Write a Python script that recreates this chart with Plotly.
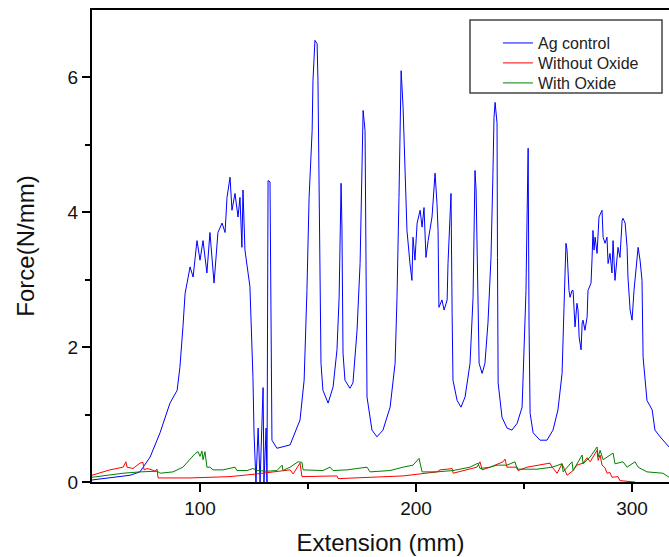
import plotly.graph_objects as go

# ---- data ----
ag_x = [50.0, 58.3, 67.6, 72.2, 76.9, 81.5, 86.1, 89.4, 90.7, 92.1, 93.1, 94.0, 95.4, 96.8, 98.6,
        100.0, 101.4, 103.2, 104.6, 106.5, 108.3, 110.2, 111.6, 112.5, 113.9, 114.8, 116.2, 117.6,
        118.5, 119.4, 119.9, 120.8, 122.2, 123.1, 124.5, 125.0, 125.9, 126.9, 127.8, 129.2, 129.6,
        130.6, 131.0, 131.5, 132.4, 133.3, 135.6, 141.7, 146.3, 148.2, 149.5, 150.5, 151.9, 152.3,
        153.2, 154.2, 154.6, 155.1, 156.0, 156.9, 159.3, 161.6, 163.4, 164.4, 165.3, 165.7, 166.2,
        167.1, 169.4, 170.8, 172.7, 174.1, 175.0, 175.5, 176.4, 176.9, 177.3, 179.6, 181.9, 184.7,
        188.0, 190.3, 191.2, 192.1, 193.1, 194.0, 194.9, 195.8, 197.2, 198.1, 198.6, 199.5, 200.5,
        201.9, 202.8, 203.7, 204.6, 205.6, 207.4, 207.9, 208.8, 209.7, 210.2, 210.6, 212.0, 213.0,
        214.4, 214.8, 215.7, 216.2, 216.7, 217.1, 219.0, 220.8, 222.7, 225.0, 226.4, 226.9, 227.3,
        227.8, 228.2, 228.7, 229.2, 230.6, 231.9, 233.3, 234.7, 235.6, 236.1, 236.6, 237.5, 237.7,
        238.0, 239.8, 242.1, 244.4, 246.8, 249.1, 250.0, 250.9, 251.4, 251.9, 252.3, 252.8, 254.2,
        257.4, 260.6, 263.4, 265.7, 267.6, 268.5, 269.4, 269.9, 270.8, 271.3, 272.2, 272.7, 273.6,
        274.5, 275.0, 275.5, 276.4, 276.9, 277.3, 278.2, 279.2, 279.6, 281.0, 281.5, 281.9, 282.4,
        282.9, 283.8, 284.7, 286.1, 286.6, 287.5, 288.4, 288.9, 289.8, 290.7, 291.2, 292.1, 293.1,
        293.5, 294.4, 295.4, 295.8, 296.8, 297.7, 298.1, 299.1, 300.0, 300.9, 301.9, 302.8, 303.7,
        304.6, 305.1, 306.9, 309.3, 310.6, 313.0, 315.3, 317.1, 320.0]
ag_y = [0.03, 0.06, 0.10, 0.15, 0.37, 0.73, 1.17, 1.36, 1.70, 2.30, 2.80, 2.95, 3.19, 3.04, 3.58,
        3.29, 3.58, 3.10, 3.70, 2.95, 3.70, 3.84, 3.70, 4.22, 4.52, 4.03, 4.28, 3.93,
        4.22, 3.48, 4.33, 3.44, 3.14, 2.90, 1.56, 0.73, 0.00, 0.80, 0.00, 1.40, 0.00,
        0.80, 0.00, 4.47, 4.45, 0.62, 0.50, 0.55, 0.92, 1.51, 2.84, 4.22, 5.21, 5.96,
        6.55, 6.50, 5.96, 4.33, 1.76, 1.36, 1.17, 1.41, 1.96, 2.74, 4.43, 3.78, 1.91,
        1.51, 1.39, 1.47, 2.25, 3.24, 4.72, 5.51, 5.21, 2.74, 1.26, 0.77, 0.67, 0.77,
        1.11, 1.76, 2.74, 4.22, 6.10, 5.56, 4.62, 3.73, 3.24, 2.99, 3.63, 3.29, 3.84,
        4.03, 3.78, 4.07, 3.33, 3.58, 3.93, 4.22, 4.58, 4.13, 3.73, 2.59, 2.70, 2.55,
        2.70, 3.24, 3.93, 4.28, 2.50, 1.51, 1.21, 1.11, 1.26, 1.76, 2.74, 3.84, 4.62,
        4.33, 3.73, 2.84, 1.76, 1.61, 1.76, 2.36, 3.33, 4.58, 5.41, 5.63, 5.32, 3.33,
        1.47, 0.96, 0.80, 0.77, 0.87, 1.11, 1.85, 2.84, 3.93, 4.95, 2.36, 1.02, 0.73,
        0.62, 0.62, 0.77, 1.07, 1.61, 2.59, 3.54, 3.44, 2.84, 2.74, 2.84, 2.84, 2.30,
        2.65, 2.55, 2.15, 1.96, 2.36, 2.40, 2.25, 2.45, 2.84, 2.95, 3.33, 3.73, 3.44,
        3.63, 3.39, 3.93, 4.03, 3.63, 3.54, 3.63, 3.24, 3.39, 3.10, 3.58, 2.99, 3.33,
        3.48, 3.33, 3.88, 3.91, 3.84, 3.48, 3.04, 2.55, 2.40, 2.84, 3.24, 3.48, 3.29,
        2.99, 1.85, 1.21, 1.07, 0.77, 0.67, 0.58, 0.52, 0.50]

wo_x = [50.0, 58.3, 64.4, 65.7, 66.2, 69.0, 72.2, 73.6, 74.1, 75.5, 77.8, 79.2, 80.1, 80.6,
        95.4, 113.9, 126.4, 132.4, 137.0, 141.7, 143.1, 146.3, 147.2, 163.4, 163.9, 178.7,
        194.0, 209.7, 211.1, 214.4, 216.7, 217.2, 225.0, 228.2, 229.6, 230.6, 234.3, 240.3,
        241.2, 242.1, 246.8, 247.2, 251.4, 256.0, 262.0, 263.0, 265.3, 267.6, 269.9, 272.7,
        274.5, 277.3, 279.2, 280.6, 282.9, 283.8, 284.3, 285.2, 286.1, 287.5, 288.4, 289.8,
        290.7, 293.5, 294.4, 300.5, 301.4]
wo_y = [0.10, 0.18, 0.22, 0.30, 0.22, 0.20, 0.28, 0.29, 0.18, 0.20, 0.18, 0.16, 0.19, 0.06,
        0.06, 0.08, 0.12, 0.14, 0.16, 0.18, 0.12, 0.28, 0.08, 0.09, 0.05, 0.07,
        0.09, 0.15, 0.18, 0.19, 0.20, 0.13, 0.20, 0.22, 0.30, 0.18, 0.22, 0.30,
        0.34, 0.22, 0.22, 0.17, 0.22, 0.25, 0.28, 0.22, 0.13, 0.27, 0.10, 0.17,
        0.25, 0.28, 0.36, 0.30, 0.43, 0.47, 0.32, 0.40, 0.25, 0.21, 0.13, 0.14,
        0.07, 0.08, 0.02, 0.01, 0.00]

w_x = [50.0, 64.4, 72.2, 80.1, 81.5, 87.5, 92.1, 95.4, 97.7, 99.1, 100.0, 100.9, 101.4, 102.3,
       103.2, 104.6, 106.0, 110.6, 116.2, 117.1, 121.8, 124.5, 126.4, 131.0, 135.6, 138.0, 138.4,
       141.7, 145.4, 147.2, 147.7, 156.9, 160.2, 161.6, 168.1, 172.7, 177.3, 178.7, 188.0, 194.0,
       198.6, 201.4, 202.8, 209.7, 217.1, 225.0, 228.7, 229.6, 234.3, 237.5, 242.1, 245.8, 246.8,
       256.0, 263.0, 267.6, 268.1, 272.2, 272.7, 276.9, 277.3, 280.6, 281.9, 283.8, 284.3, 285.2,
       286.6, 291.2, 292.1, 295.8, 297.7, 301.4, 302.8, 306.9, 314.3, 317.1, 320.0]
w_y = [0.07, 0.13, 0.15, 0.16, 0.13, 0.15, 0.22, 0.33, 0.42, 0.45, 0.38, 0.46, 0.33, 0.45,
       0.22, 0.22, 0.18, 0.18, 0.22, 0.17, 0.17, 0.20, 0.17, 0.16, 0.17, 0.25, 0.17,
       0.22, 0.30, 0.29, 0.18, 0.17, 0.22, 0.17, 0.18, 0.20, 0.22, 0.15, 0.17, 0.22,
       0.25, 0.35, 0.15, 0.15, 0.17, 0.22, 0.28, 0.20, 0.22, 0.25, 0.25, 0.30, 0.19,
       0.19, 0.22, 0.27, 0.15, 0.30, 0.17, 0.40, 0.27, 0.37, 0.43, 0.52, 0.37, 0.47,
       0.33, 0.43, 0.27, 0.30, 0.22, 0.30, 0.22, 0.15, 0.13, 0.07, 0.05]

series_names = ["Ag control", "Without Oxide", "With Oxide"]
x_ticks = [100, 200, 300]
y_ticks = [0, 2, 4, 6]

FONT = "Liberation Sans, Arial, sans-serif"

fig = go.Figure()
fig.add_trace(go.Scatter(x=ag_x, y=ag_y, mode="lines", name=series_names[0], showlegend=True,
                         line=dict(color="#0000FF", width=1), legend="legend"))
fig.add_trace(go.Scatter(x=wo_x, y=wo_y, mode="lines", name=series_names[1], showlegend=True,
                         line=dict(color="#FF0000", width=1), legend="legend2"))
fig.add_trace(go.Scatter(x=w_x, y=w_y, mode="lines", name=series_names[2], showlegend=True,
                         line=dict(color="#008000", width=1), legend="legend3"))

leg_common = dict(x=0.7036, xanchor="left", yanchor="middle", bgcolor="rgba(0,0,0,0)",
                  borderwidth=0, font=dict(family=FONT, size=16, color="#222"))

fig.update_layout(
    width=669, height=557,
    margin=dict(l=92, r=0, t=10, b=75),
    paper_bgcolor="white", plot_bgcolor="white",
    font=dict(family=FONT, color="#111"),
    showlegend=True,
    legend=dict(y=0.930, **leg_common),
    legend2=dict(y=0.8877, **leg_common),
    legend3=dict(y=0.8453, **leg_common),
    shapes=[dict(type="rect", xref="paper", yref="paper", x0=0.6551, x1=0.9879,
                 y0=0.8242, y1=0.9788, line=dict(color="#444", width=1.5),
                 fillcolor="rgba(0,0,0,0)", layer="below")],
)
fig.update_xaxes(
    range=[50, 317.1], showgrid=False, zeroline=False,
    showline=True, linecolor="black", linewidth=2, mirror=True,
    ticks="outside", ticklen=8, tickwidth=2, tickcolor="black",
    tickvals=x_ticks, tickfont=dict(size=19, family=FONT, color="#111"),
    minor=dict(tickvals=[150, 250], ticks="outside", ticklen=5, tickwidth=2, tickcolor="black"),
    title=dict(text="Extension (mm)", font=dict(size=24, family=FONT, color="#111"), standoff=16),
)
fig.update_yaxes(
    range=[0, 7], showgrid=False, zeroline=False,
    showline=True, linecolor="black", linewidth=2, mirror=False,
    ticks="outside", ticklen=8, tickwidth=2, tickcolor="black",
    tickvals=y_ticks, tickfont=dict(size=19, family=FONT, color="#111"),
    minor=dict(tickvals=[1, 3, 5], ticks="outside", ticklen=5, tickwidth=2, tickcolor="black"),
    title=dict(text="Force(N/mm)", font=dict(size=24, family=FONT, color="#111"), standoff=26),
)

fig.write_html("out.html")
